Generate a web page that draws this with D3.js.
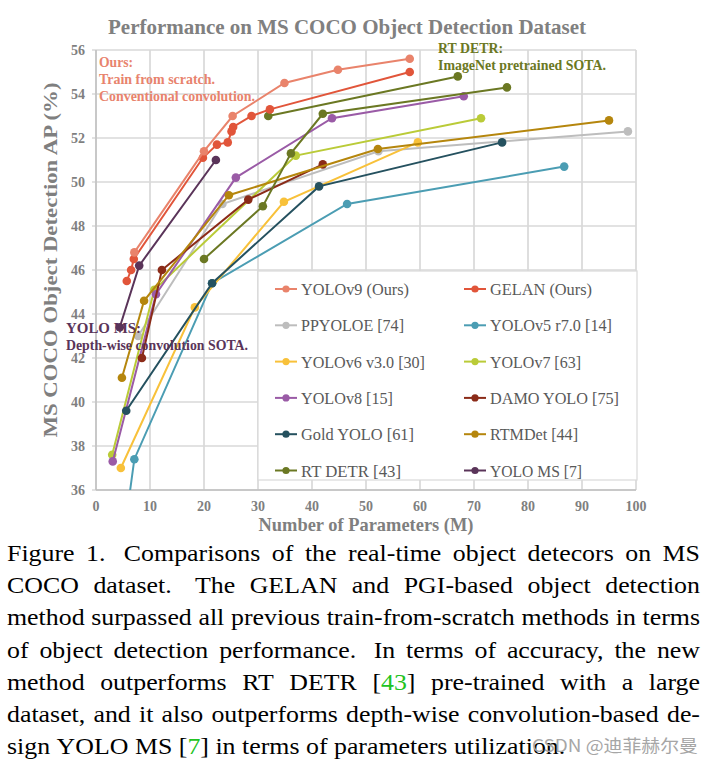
<!DOCTYPE html>
<html><head><meta charset="utf-8">
<script src="https://cdn.jsdelivr.net/npm/d3@7"></script>
<style>body{margin:0;background:#fff;} svg{display:block;}</style>
</head><body>
<svg id="c" width="714" height="763"></svg>
<script>
// ---------- data ----------
const xTicks = [0,10,20,30,40,50,60,70,80,90,100];
const yTicks = [36,38,40,42,44,46,48,50,52,54,56];

const yolov9   = [[7.1,46.8],[20.0,51.4],[25.3,53.0],[34.9,54.5],[44.8,55.1],[58.1,55.6]];
const gelan    = [[5.7,45.5],[6.5,46.0],[7.0,46.5],[19.8,51.1],[22.4,51.7],[24.4,51.8],[25.1,52.3],[25.4,52.5],[28.8,53.0],[32.2,53.3],[58.1,55.0]];
const ppyoloe  = [[7.8,43.0],[23.4,49.0],[52.3,51.4],[98.5,52.3]];
const yolov5   = [[1.9,28.0],[7.1,37.4],[21.5,45.4],[46.5,49.0],[86.7,50.7]];
const yolov6   = [[4.6,37.0],[18.3,44.3],[34.8,49.1],[59.6,51.8]];
const yolov7   = [[3.0,37.6],[10.8,45.1],[37.0,51.2],[71.3,52.9]];
const yolov8   = [[3.1,37.3],[11.1,44.9],[25.9,50.2],[43.7,52.9],[68.1,53.9]];
const damoyolo = [[8.5,42.0],[12.2,46.0],[28.2,49.2],[42.0,50.8]];
const goldyolo = [[5.6,39.6],[21.5,45.4],[41.3,49.8],[75.2,51.8]];
const rtmdet   = [[4.8,41.1],[8.9,44.6],[24.6,49.4],[52.2,51.5],[95.0,52.8]];
const rtdetr   = [[20.0,46.5],[30.9,48.9],[36.1,51.3],[42.0,53.1],[76.1,54.3]];
const rtdetrPre= [[31.9,53.0],[67.0,54.8]];
const yoloms   = [[4.4,43.4],[8.0,46.2],[22.2,51.0]];

const legendNames = ["YOLOv9 (Ours)","GELAN (Ours)","PPYOLOE [74]","YOLOv5 r7.0 [14]","YOLOv6 v3.0 [30]","YOLOv7 [63]","YOLOv8 [15]","DAMO YOLO [75]","Gold YOLO [61]","RTMDet [44]","RT DETR [43]","YOLO MS [7]"];
const colors = ["#E9836B","#E1553A","#BDBDBD","#4B9DB3","#F8C13A","#BACB38","#9A5BA6","#8B2B18","#25515F","#B5860D","#6B7823","#5A3459"];
const legendWidths = [108,102,103,122,124,91,92,129,113,88,100,92];

const captionLines = [
  "Figure 1.  Comparisons of the real-time object detecors on MS",
  "COCO dataset.  The GELAN and PGI-based object detection",
  "method surpassed all previous train-from-scratch methods in terms",
  "of object detection performance.  In terms of accuracy, the new",
  "method outperforms RT DETR [{43}] pre-trained with a large",
  "dataset, and it also outperforms depth-wise convolution-based de-",
  "sign YOLO MS [{7}] in terms of parameters utilization."
];

// ---------- layout ----------
const svg = d3.select("#c");
const L = 96, R = 636, T = 50, B = 490;
const x = d3.scaleLinear().domain([0,100]).range([L,R]);
const y = d3.scaleLinear().domain([36,56]).range([B,T]);
const serif = "'Liberation Serif','Times New Roman',serif";
const axisGray = "#7F7F7F";

svg.append("rect").attr("width",714).attr("height",763).attr("fill","#fff");

// grid
const g = svg.append("g");
g.selectAll(".hg").data(yTicks).join("line")
  .attr("x1",L-4).attr("x2",R).attr("y1",d=>y(d)).attr("y2",d=>y(d))
  .attr("stroke","#D9D9D9").attr("stroke-width",1.7);
g.selectAll(".vg").data(xTicks).join("line")
  .attr("x1",d=>x(d)).attr("x2",d=>x(d)).attr("y1",T).attr("y2",B)
  .attr("stroke","#D9D9D9").attr("stroke-width",1.7);
// axes lines
g.append("line").attr("x1",L).attr("x2",L).attr("y1",T).attr("y2",B).attr("stroke","#BFBFBF").attr("stroke-width",1.4);
g.append("line").attr("x1",L).attr("x2",R).attr("y1",B).attr("y2",B).attr("stroke","#BFBFBF").attr("stroke-width",1.4);

// tick labels
svg.selectAll(".yl").data(yTicks).join("text")
  .attr("x",85).attr("y",d=>y(d)+5).attr("text-anchor","end")
  .attr("font-family",serif).attr("font-weight","bold").attr("font-size",14)
  .attr("fill",axisGray).text(d=>d);
svg.selectAll(".xl").data(xTicks).join("text")
  .attr("x",d=>x(d)).attr("y",511).attr("text-anchor","middle")
  .attr("font-family",serif).attr("font-weight","bold").attr("font-size",14)
  .attr("fill",axisGray).text(d=>d);

// titles
svg.append("text").attr("x",347).attr("y",34).attr("text-anchor","middle")
  .attr("font-family",serif).attr("font-weight","bold").attr("font-size",20)
  .attr("fill","#808080").attr("textLength",478).attr("lengthAdjust","spacingAndGlyphs")
  .text("Performance on MS COCO Object Detection Dataset");
svg.append("text").attr("x",366).attr("y",531).attr("text-anchor","middle")
  .attr("font-family",serif).attr("font-weight","bold").attr("font-size",19)
  .attr("fill",axisGray).attr("textLength",215).attr("lengthAdjust","spacingAndGlyphs")
  .text("Number of Parameters (M)");
svg.append("text").attr("transform","translate(57,260) rotate(-90)").attr("text-anchor","middle")
  .attr("font-family",serif).attr("font-weight","bold").attr("font-size",19)
  .attr("fill",axisGray).attr("textLength",355).attr("lengthAdjust","spacingAndGlyphs")
  .text("MS COCO Object Detection AP (%)");

// legend box
const lg = svg.append("g");
lg.append("rect").attr("x",258).attr("y",271).attr("width",379).attr("height",209)
  .attr("fill","#fff").attr("stroke","#D9D9D9").attr("stroke-width",1.2);

// series
const series = [
  {data:yolov9,c:0},{data:gelan,c:1},{data:ppyoloe,c:2},{data:yolov5,c:3},
  {data:yolov6,c:4},{data:yolov7,c:5},{data:yolov8,c:6},{data:damoyolo,c:7},
  {data:goldyolo,c:8},{data:rtmdet,c:9},{data:rtdetr,c:10},{data:rtdetrPre,c:10},{data:yoloms,c:11}
];
svg.append("clipPath").attr("id","clip").append("rect").attr("x",L).attr("y",T-8).attr("width",R-L+10).attr("height",B-T+8);
const plot = svg.append("g").attr("clip-path","url(#clip)");
const line = d3.line().x(d=>x(d[0])).y(d=>y(d[1]));
const drawOrder = [2,3,4,5,6,7,8,9,10,11,12,1,0];
drawOrder.forEach(i=>{
  const s = series[i];
  const sg = plot.append("g");
  sg.append("path").attr("d",line(s.data)).attr("fill","none")
    .attr("stroke",colors[s.c]).attr("stroke-width",2);
  sg.selectAll("circle").data(s.data).join("circle")
    .attr("cx",d=>x(d[0])).attr("cy",d=>y(d[1])).attr("r",4.3)
    .attr("fill",colors[s.c]);
});

// legend items
legendNames.forEach((n,i)=>{
  const col = i%2, row = Math.floor(i/2);
  const x0 = col===0 ? 275 : 464;
  const yy = 289 + row*36.3;
  lg.append("line").attr("x1",x0).attr("x2",x0+22).attr("y1",yy).attr("y2",yy)
    .attr("stroke",colors[i]).attr("stroke-width",2);
  lg.append("circle").attr("cx",x0+11).attr("cy",yy).attr("r",3.6).attr("fill",colors[i]);
  lg.append("text").attr("x",x0+26).attr("y",yy+6)
    .attr("font-family",serif).attr("font-size",17).attr("fill","#595959")
    .attr("textLength",legendWidths[i]).attr("lengthAdjust","spacingAndGlyphs")
    .text(n);
});
lg.raise();

// annotations
function ann(txt,xx,yy,w,col){
  svg.append("text").attr("x",xx).attr("y",yy).attr("font-family",serif)
    .attr("font-weight","bold").attr("font-size",14).attr("fill",col)
    .attr("textLength",w).attr("lengthAdjust","spacingAndGlyphs").text(txt);
}
ann("Ours:",99,67,34,"#E8836D");
ann("Train from scratch.",99,84,116,"#E8836D");
ann("Conventional convolution.",99,101,156,"#E8836D");
ann("RT DETR:",438,53,65,"#6B7823");
ann("ImageNet pretrained SOTA.",438,70,168,"#6B7823");
ann("YOLO MS:",66,333,75,"#5A3459");
ann("Depth-wise convolution SOTA.",66,350,182,"#5A3459");

// caption (justified)
const capFont = 23, kx = 1.125, capLeft = 7, capRight = 700;
const cap = svg.append("g").attr("font-family",serif).attr("font-size",capFont).attr("fill","#000");
captionLines.forEach((ln,li)=>{
  const base = 561 + li*32.2;
  const lg2 = cap.append("g").attr("transform",`translate(${capLeft},${base}) scale(${kx},1)`);
  const parts = ln.split(/( +)/);
  const words = []; const gapW = [];
  parts.forEach(p=>{ if(/^ +$/.test(p)) gapW.push(p.length>1?1.6:1); else if(p.length) words.push(p); });
  const nodes = words.map(w=>{
    const t = lg2.append("text").attr("x",0).attr("y",0);
    const segs = w.split(/(\{[^}]*\})/).filter(s=>s.length);
    segs.forEach(s=>{
      if(s[0]==="{") t.append("tspan").attr("fill","#22C322").text(s.slice(1,-1));
      else t.append("tspan").text(s);
    });
    return t;
  });
  const widths = nodes.map(n=>n.node().getComputedTextLength());
  const total = d3.sum(widths);
  const avail = (capRight-capLeft)/kx;
  const last = li===captionLines.length-1;
  const unit = last ? capFont*0.25 : (avail-total)/d3.sum(gapW);
  let cx = 0;
  nodes.forEach((n,i)=>{ n.attr("x",cx); cx += widths[i] + (i<gapW.length ? gapW[i]*unit : 0); });
});

// watermark
svg.append("text").attr("x",532).attr("y",752).attr("font-family","'Noto Sans CJK SC','Noto Sans',sans-serif")
  .attr("font-size",17).attr("fill","#A6A6A6").attr("textLength",166).attr("lengthAdjust","spacingAndGlyphs")
  .text("CSDN @迪菲赫尔曼");
</script>
</body></html>
